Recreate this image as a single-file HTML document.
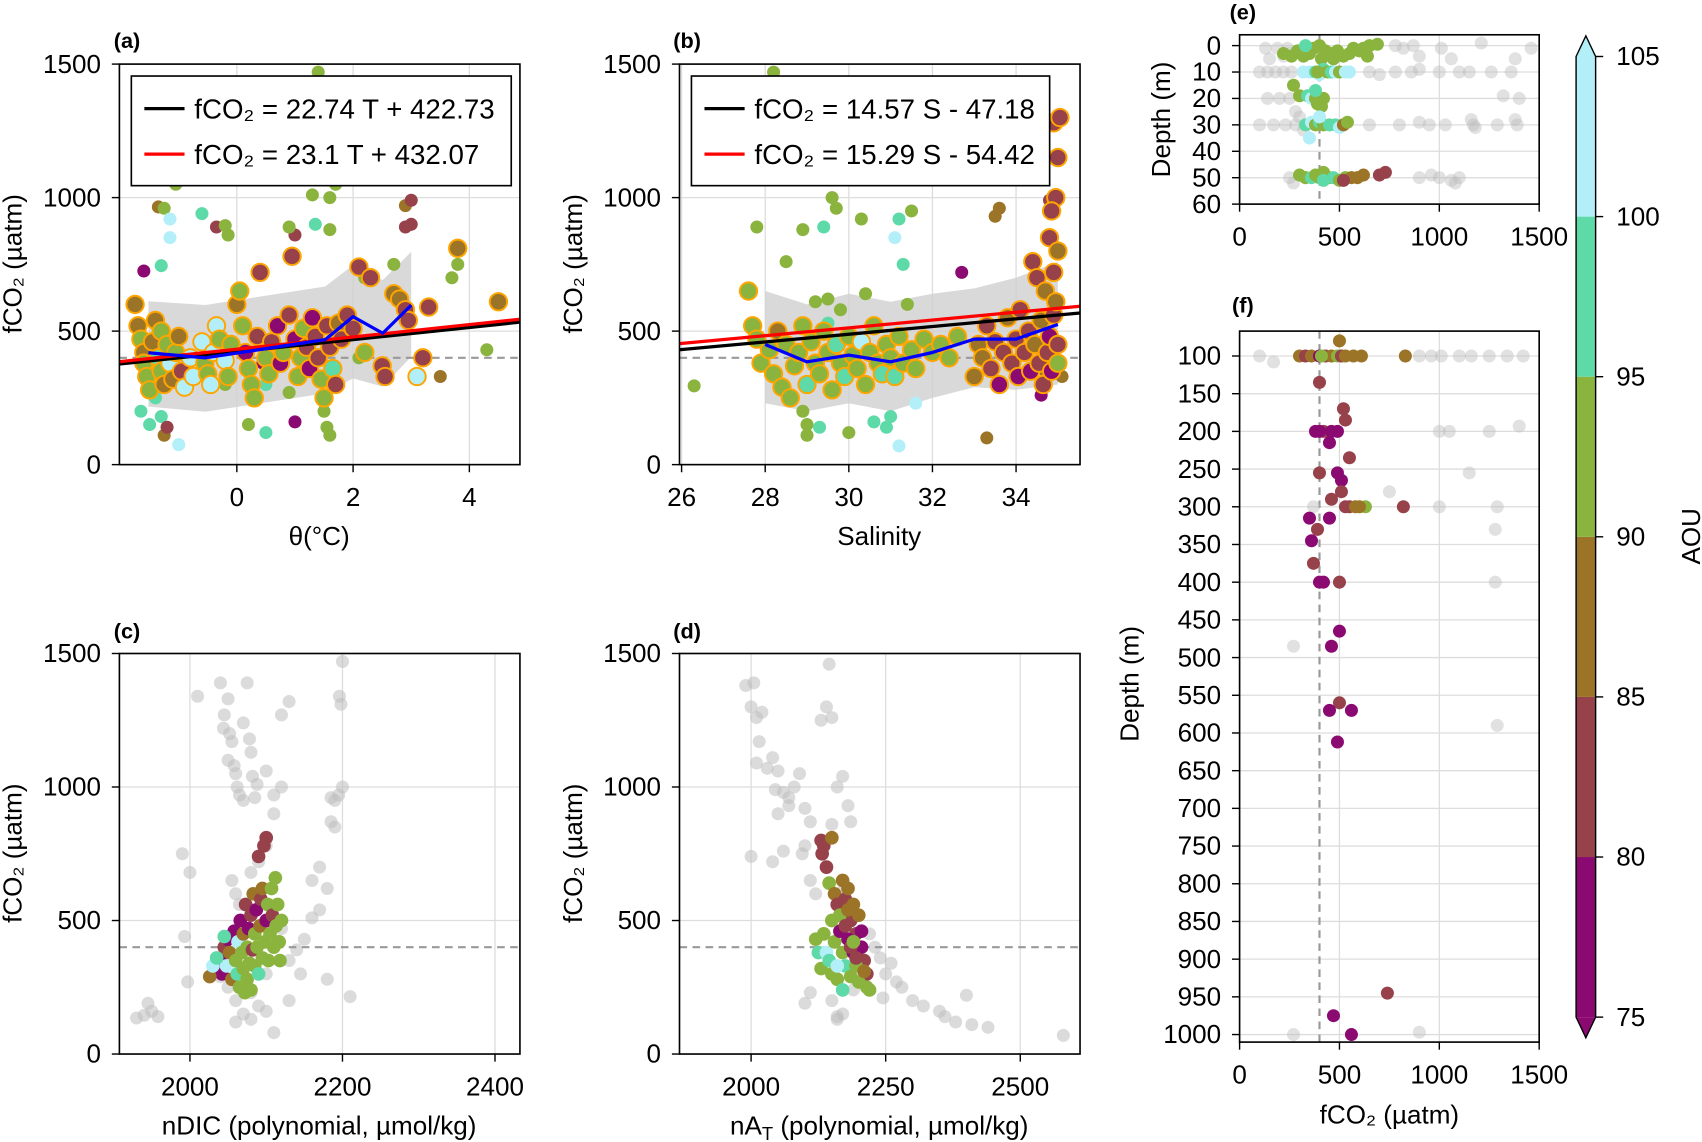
<!DOCTYPE html>
<html><head><meta charset="utf-8"><style>
html,body{margin:0;padding:0;background:#fff}
svg{display:block;font-family:"Liberation Sans",Arial,sans-serif}
</style></head><body>
<svg id="fig" width="1702" height="1142" viewBox="0 0 1568 1052" xmlns="http://www.w3.org/2000/svg"></svg>
<script>
// ---------- data ----------
const aEdge=[[-1.75,600,87],[-1.7,520,87],[-1.65,470,92],[-1.6,420,87],[-1.6,380,92],[-1.55,330,92],[-1.5,280,92],[-1.45,460,87],[-1.4,540,87],[-1.35,400,97],[-1.3,350,92],[-1.3,500,92],[-1.25,300,87],[-1.2,450,92],[-1.15,380,102],[-1.1,320,87],[-1.05,420,92],[-1.0,480,87],[-0.95,350,82],[-0.9,290,102],[-0.8,400,102],[-0.75,330,102],[-0.6,460,102],[-0.55,380,92],[-0.5,340,92],[-0.45,300,102],[-0.4,420,102],[-0.35,520,102],[-0.3,470,92],[-0.2,390,102],[-0.15,330,92],[-0.1,450,92],[0,600,87],[0.05,650,92],[0.1,520,92],[0.15,420,77],[0.2,360,92],[0.25,300,92],[0.3,250,92],[0.35,480,82],[0.4,720,82],[0.5,400,92],[0.55,340,92],[0.6,460,82],[0.7,520,77],[0.75,380,77],[0.8,420,92],[0.9,560,82],[0.95,780,82],[1.0,470,77],[1.05,330,92],[1.1,400,92],[1.15,510,92],[1.2,440,82],[1.25,360,77],[1.3,550,77],[1.35,480,82],[1.4,400,82],[1.45,320,92],[1.5,250,92],[1.55,520,82],[1.6,440,82],[1.65,360,97],[1.7,300,82],[1.75,530,87],[1.8,470,82],[1.9,560,82],[2.0,510,82],[2.1,740,82],[2.2,420,92],[2.3,700,82],[2.5,370,82],[2.55,330,82],[2.7,640,87],[2.8,620,87],[2.9,580,82],[2.95,540,82],[3.1,330,102],[3.2,400,82],[3.3,590,82],[3.8,810,87],[4.5,610,87]];
const aPlain=[[-1.65,200,97],[-1.5,150,97],[-1.4,250,97],[-1.3,180,97],[-1.25,110,87],[-1.2,140,82],[-1.0,75,102],[-1.35,965,87],[-1.25,960,92],[-1.15,920,102],[-1.15,850,102],[-1.3,745,97],[-1.6,725,77],[-0.6,940,97],[-0.35,890,82],[-0.2,895,92],[-0.15,860,92],[-1.05,1050,92],[0.5,300,97],[0.9,270,92],[0.5,120,97],[1.5,200,92],[1.55,140,92],[1.6,110,92],[0.45,380,77],[0.2,150,92],[1.0,160,77],[1.85,470,92],[2.2,700,92],[2.7,750,92],[2.9,970,87],[3.0,990,82],[3.0,900,82],[2.9,890,82],[1.3,1010,92],[1.35,900,97],[1.4,1470,92],[1.0,860,82],[1.6,1000,92],[1.7,1050,92],[1.6,880,92],[0.9,890,92],[3.8,750,92],[3.7,700,92],[4.3,430,92],[3.5,330,87],[-0.2,300,92],[0.2,330,102],[1.65,500,97],[2.1,400,92]];
const aBlueT=[-1.52,-0.54,1.52,2.0,2.51,3.0];
const aBlueF=[419,400,468,554,492,597];
const aBandHi=[612,598,667,747,691,797];
const aBandLo=[217,198,267,323,292,404];
const bEdge=[[27.6,650,92],[27.7,520,92],[27.8,470,92],[27.9,380,92],[28.1,430,92],[28.2,340,92],[28.3,500,87],[28.4,290,92],[28.5,450,92],[28.6,250,92],[28.7,370,92],[28.8,420,92],[28.9,520,92],[29.0,300,97],[29.1,460,92],[29.2,380,92],[29.3,340,92],[29.4,500,92],[29.5,420,92],[29.6,280,92],[29.7,450,97],[29.8,380,92],[29.9,330,97],[30.0,480,92],[30.1,410,92],[30.2,360,92],[30.3,460,102],[30.4,300,92],[30.5,420,92],[30.6,520,92],[30.7,380,92],[30.8,340,97],[30.9,450,92],[31.0,400,92],[31.1,330,97],[31.2,480,92],[31.3,380,92],[31.5,430,92],[31.6,360,92],[31.8,470,92],[32.0,420,92],[32.2,450,92],[32.4,400,92],[32.6,480,92],[33.0,330,87],[33.1,450,87],[33.2,400,87],[33.3,520,82],[33.4,360,82],[33.5,460,82],[33.6,300,77],[33.7,420,82],[33.8,550,87],[33.9,380,82],[34.0,470,82],[34.05,330,77],[34.1,580,82],[34.2,420,82],[34.3,500,82],[34.35,350,77],[34.4,760,82],[34.45,450,87],[34.5,700,82],[34.55,380,82],[34.6,540,87],[34.65,300,82],[34.7,650,87],[34.75,420,82],[34.8,480,77],[34.8,850,82],[34.85,350,77],[34.9,560,82],[34.9,720,82],[34.95,610,87],[35.0,450,82],[35.0,800,87],[34.95,1000,82],[35.0,1150,82],[34.9,1280,82],[35.0,380,92],[34.85,950,82],[35.05,1300,82]];
const bPlain=[[26.3,295,92],[27.8,890,92],[28.2,1470,92],[28.5,760,92],[28.9,200,92],[28.9,880,92],[29.0,150,92],[29.0,110,92],[29.3,140,97],[29.4,890,97],[29.6,1000,92],[29.7,960,92],[30.0,120,92],[30.3,920,92],[30.6,160,97],[30.9,140,97],[31.1,850,102],[31.2,920,97],[31.3,750,97],[31.5,950,92],[31.6,230,102],[31.0,180,97],[31.2,70,102],[29.2,610,92],[29.5,620,92],[29.8,580,92],[30.4,640,92],[31.4,600,92],[32.7,720,77],[33.5,930,87],[33.6,960,87],[34.7,350,87],[34.6,260,77],[35.1,330,87],[33.3,100,87],[34.8,990,82],[29.5,530,97]];
const bBlueS=[28,29,30,31,32,33,34,35];
const bBlueF=[450,385,410,385,420,470,470,525];
const bBandHi=[650,600,640,610,640,660,700,760];
const bBandLo=[230,200,230,200,250,290,280,300];
const bFitS=[25.95,35.53];
const bFitBlack=[430,568];
const bFitRed=[453,593];
const cGrey=[[1930,135],[1940,145],[1945,190],[1950,160],[1958,140],[1990,750],[1993,440],[1997,270],[2000,680],[2010,1340],[2040,1390],[2045,1270],[2044,1220],[2050,1330],[2055,1170],[2060,1050],[2058,1080],[2050,1100],[2062,1000],[2065,970],[2070,950],[2052,1200],[2070,1240],[2075,1390],[2078,1180],[2080,1130],[2082,1040],[2085,960],[2088,1010],[2100,1060],[2110,970],[2120,1000],[2110,900],[2100,780],[2090,720],[2080,680],[2055,650],[2060,600],[2065,560],[2120,1270],[2130,1320],[2160,650],[2170,700],[2180,620],[2185,960],[2190,950],[2195,970],[2200,1000],[2198,1310],[2196,1340],[2200,1470],[2190,850],[2185,870],[2210,215],[2180,280],[2160,510],[2140,390],[2130,350],[2100,160],[2090,180],[2080,230],[2070,150],[2060,200],[2060,120],[2110,80],[2100,300],[2070,320],[2040,290],[2050,250],[2120,470],[2150,430],[2170,540],[2145,300],[2130,200],[2080,130]];
const cCol=[[2040,350,77],[2042,300,77],[2045,400,82],[2048,330,102],[2050,430,77],[2052,380,87],[2055,280,87],[2058,460,77],[2060,350,92],[2062,300,97],[2063,420,102],[2065,250,92],[2066,500,77],[2068,380,92],[2070,320,92],[2070,450,87],[2072,230,92],[2073,560,82],[2075,400,92],[2075,280,92],[2077,470,77],[2078,340,92],[2080,520,82],[2080,240,92],[2082,390,82],[2083,600,87],[2085,450,92],[2085,330,92],[2087,540,77],[2088,400,92],[2090,740,82],[2090,300,97],[2092,480,87],[2093,580,82],[2095,620,87],[2095,360,92],[2097,780,82],[2098,420,92],[2100,500,77],[2100,810,82],[2102,560,92],[2103,350,92],[2105,450,92],[2107,620,92],[2108,520,82],[2110,400,92],[2112,660,92],[2113,480,92],[2115,560,92],[2117,420,92],[2118,350,92],[2120,500,92],[2026,290,87],[2030,330,102],[2035,360,97],[2045,440,97]];
const dGrey=[[1990,1380],[2005,1390],[2000,1300],[2010,1260],[2015,1170],[2020,1280],[2010,1090],[2030,1070],[2040,1110],[2050,1060],[2045,990],[2060,980],[2070,960],[2080,1000],[2090,1050],[2050,900],[2070,930],[2100,920],[2110,870],[2100,780],[2095,750],[2060,760],[2040,720],[2000,740],[2130,1250],[2140,1300],[2145,1460],[2150,1260],[2160,1000],[2170,1040],[2180,930],[2185,870],[2150,860],[2120,600],[2110,650],[2170,610],[2220,450],[2230,400],[2240,360],[2260,340],[2250,300],[2270,270],[2280,250],[2300,200],[2320,180],[2350,160],[2360,140],[2380,120],[2410,110],[2440,100],[2400,220],[2580,70],[2160,140],[2160,130],[2170,150],[2100,190],[2110,230],[2150,200],[2200,280],[2190,240],[2245,210]];
const dCol=[[2130,800,82],[2132,750,82],[2135,780,82],[2140,700,82],[2150,810,87],[2145,640,92],[2155,600,87],[2160,560,82],[2165,520,87],[2170,650,87],[2175,580,82],[2180,620,87],[2185,500,82],[2190,560,87],[2195,450,82],[2200,520,87],[2205,400,77],[2210,350,82],[2215,300,82],[2120,430,92],[2125,380,97],[2130,320,92],[2135,450,92],[2140,380,102],[2145,350,97],[2150,300,92],[2155,420,92],[2160,280,92],[2165,460,77],[2170,380,92],[2175,330,97],[2180,430,77],[2185,290,92],[2190,380,77],[2195,330,92],[2200,270,92],[2205,460,77],[2210,310,87],[2215,250,92],[2220,240,92],[2150,500,92],[2160,330,102],[2170,240,97],[2185,400,82],[2195,360,82],[2165,520,92],[2175,480,82],[2180,540,87],[2190,420,92]];
const eGrey=[[130,1],[150,5],[190,1],[220,4],[250,3],[240,1],[780,0],[820,1],[870,0],[900,4],[1010,1],[1060,5],[1210,-1],[1380,5],[1460,1],[100,10],[140,10],[180,10],[220,10],[260,10],[650,10],[700,11],[780,10],[860,10],[900,9],[1000,10],[1100,10],[1150,10],[1260,10],[1360,10],[200,20],[250,20],[140,20],[1320,19],[1400,20],[280,25],[300,27],[100,30],[170,30],[230,30],[280,30],[320,32],[650,30],[800,30],[900,29],[950,30],[1030,30],[1170,30],[1290,30],[1180,31],[1390,30],[1380,28],[1160,28],[250,50],[270,52],[330,50],[900,50],[960,49],[1000,50],[1060,51],[1100,50],[1080,52]];
const eCol=[[220,3,92],[260,4,92],[290,2,92],[320,4,92],[350,3,92],[370,1,92],[400,0,92],[430,2,92],[460,3,92],[490,2,92],[520,4,92],[550,3,92],[570,1,92],[600,2,92],[620,1,92],[650,0,92],[330,0,97],[410,5,92],[470,5,92],[690,-0.5,92],[640,4,92],[320,10,102],[350,10,102],[380,10,97],[400,11,102],[420,9,97],[440,10,92],[460,10,97],[480,10,102],[500,10,92],[530,10,102],[550,10,102],[390,10,92],[300,19,92],[340,19,97],[360,20,102],[380,20,92],[420,20,92],[390,22,92],[410,23,92],[270,15,92],[380,17,97],[330,30,97],[360,29,102],[380,30,92],[400,29,97],[420,30,92],[450,30,97],[480,30,97],[500,31,102],[520,30,87],[540,29,92],[350,35,102],[400,27,102],[300,49,92],[330,50,92],[360,50,97],[380,49,92],[400,50,92],[420,48,92],[450,50,92],[470,50,97],[500,51,92],[530,50,92],[560,50,87],[590,50,87],[620,49,87],[520,51,82],[700,49,82],[730,48,82],[420,51,97]];
const fGrey=[[100,100],[170,108],[900,100],[960,100],[1010,100],[1100,100],[1160,100],[1250,100],[1340,100],[1420,100],[1400,193],[1050,200],[1000,200],[1250,200],[1150,255],[750,280],[1000,300],[1290,300],[370,300],[1280,330],[1280,400],[270,485],[1290,590],[270,1000],[900,997]];
const fCol=[[300,100,87],[330,100,82],[360,100,87],[400,100,77],[430,100,82],[460,100,87],[490,100,92],[510,100,82],[530,100,87],[570,100,87],[610,100,87],[830,100,87],[500,80,87],[410,100,92],[400,135,82],[520,170,82],[530,185,82],[380,200,77],[420,200,82],[460,200,77],[400,200,77],[490,200,77],[450,215,77],[550,235,82],[490,255,77],[510,265,77],[400,255,82],[510,280,82],[530,300,82],[550,300,82],[580,300,87],[630,300,92],[600,300,87],[820,300,82],[450,315,77],[460,290,82],[350,315,77],[360,345,77],[390,330,82],[370,375,82],[400,400,77],[420,400,77],[500,400,82],[500,465,77],[460,485,77],[500,560,82],[450,570,77],[560,570,77],[490,612,77],[740,945,82],[470,975,77],[560,1000,77]];
const cbTicks=[75,80,85,90,95,100,105];
const cbColors=['#8b0a72','#97414b','#9b7427','#8ab43d','#5edaa9','#b3eff8'];

// ---------- helpers ----------
const NS='http://www.w3.org/2000/svg';
const svg=document.getElementById('fig');
const TF=24, AF=24;
function mk(tag,attrs,parent){const e=document.createElementNS(NS,tag);for(const k in attrs)e.setAttribute(k,attrs[k]);(parent||svg).appendChild(e);return e;}
function col(a){return a<80?cbColors[0]:a<85?cbColors[1]:a<90?cbColors[2]:a<95?cbColors[3]:a<100?cbColors[4]:cbColors[5];}
function lin(d0,d1,r0,r1){return v=>r0+(v-d0)*(r1-r0)/(d1-d0);}

function panel(name,x0,x1,y0,y1,xd,yd,xt,yt,label,lx,ly){
  const g=mk('g',{});
  
  
  const X=lin(xd[0],xd[1],x0,x1),Y=lin(yd[0],yd[1],y1,y0);
  const cp=mk('clipPath',{id:'cp-'+name},g);mk('rect',{x:x0,y:y0,width:x1-x0,height:y1-y0},cp);
  const grid=mk('g',{stroke:'#dddddd','stroke-width':1.2},g);
  
  
  xt.forEach(t=>mk('line',{x1:X(t),x2:X(t),y1:y0,y2:y1},grid));
  yt.forEach(t=>mk('line',{x1:x0,x2:x1,y1:Y(t),y2:Y(t)},grid));
  const plot=mk('g',{'clip-path':'url(#cp-'+name+')'},g);
  const ax=mk('g',{},g);
  mk('rect',{x:x0,y:y0,width:x1-x0,height:y1-y0,fill:'none',stroke:'#000','stroke-width':1.5},ax);
  xt.forEach(t=>{mk('line',{x1:X(t),x2:X(t),y1:y1,y2:y1+7,stroke:'#000','stroke-width':1.3},ax);
    const tx=mk('text',{x:X(t),y:y1+38,'font-size':TF,'text-anchor':'middle'},ax);tx.textContent=t;
    
    });
  yt.forEach(t=>{mk('line',{x1:x0-7,x2:x0,y1:Y(t),y2:Y(t),stroke:'#000','stroke-width':1.3},ax);
    const tx=mk('text',{x:x0-17,y:Y(t)+8,'font-size':TF,'text-anchor':'end'},ax);tx.textContent=t;
    
    });
  const pl=mk('text',{x:lx,y:ly,'font-size':20,'font-weight':'bold','text-anchor':'middle'},g);pl.textContent=label;
  
  
  return {X,Y,plot,g};
}
function dot(p,x,y,fill,r,extra){const c=mk('circle',Object.assign({cx:p.X(x),cy:p.Y(y),r:r,fill:fill},extra||{}),p.plot);
  
  return c;}
function hdash(p,v,a,b){const l=mk('line',{x1:p.X(a),x2:p.X(b),y1:p.Y(v),y2:p.Y(v),stroke:'#999','stroke-width':2,'stroke-dasharray':'7,5'},p.plot);
  
  }
function vdash(p,v,a,b){const l=mk('line',{x1:p.X(v),x2:p.X(v),y1:p.Y(a),y2:p.Y(b),stroke:'#999','stroke-width':2,'stroke-dasharray':'7,5'},p.plot);
  
  }
function band(p,xs,hi,lo){let d='M'+xs.map((x,i)=>p.X(x)+','+p.Y(hi[i])).join('L');
  for(let i=xs.length-1;i>=0;i--)d+='L'+p.X(xs[i])+','+p.Y(lo[i]);
  const e=mk('path',{d:d+'Z',fill:'#cfcfcf','fill-opacity':0.8},p.plot);
  
  }
function poly(p,xs,ys,stroke,w,name){const e=mk('polyline',{points:xs.map((x,i)=>p.X(x)+','+p.Y(ys[i])).join(' '),fill:'none',stroke:stroke,'stroke-width':w,'stroke-linejoin':'round'},p.plot);
  
  }
function fit(p,xd,m,b,stroke,name){poly(p,xd,xd.map(x=>m*x+b),stroke,3,name);}
function text(x,y,s,size,anchor,rot,name){const t=mk('text',{x:x,y:y,'font-size':size,'text-anchor':anchor||'middle'});
  if(rot)t.setAttribute('transform','rotate(-90 '+x+' '+y+')');t.textContent=s;
  
  return t;}
function legend(x,y,w,rows){const g=mk('g',{});
  
  
  mk('rect',{x:x,y:y,width:w,height:101,fill:'#fff',stroke:'#000','stroke-width':1.5},g);
  rows.forEach((r,i)=>{const yy=y+30+i*42;mk('line',{x1:x+12,x2:x+49,y1:yy,y2:yy,stroke:r[0],'stroke-width':3},g);
    const t=mk('text',{x:x+58,y:yy+9,'font-size':25.5},g);t.textContent=r[1];
    
    });}

// ---------- panel a ----------
const yt4=[0,500,1000,1500];
const pa=panel('panel-a',110,479,59,428,[-2.02,4.87],[0,1500],[0,2,4],yt4,'(a)',117,44);
band(pa,aBlueT,aBandHi,aBandLo);
hdash(pa,400,-2.02,4.87);
aPlain.forEach(d=>dot(pa,d[0],d[1],col(d[2]),6));
aEdge.forEach(d=>dot(pa,d[0],d[1],col(d[2]),8,{stroke:'#ffa500','stroke-width':1.8}));
fit(pa,[-2.02,4.87],22.74,422.73,'#000','fit-line-all');
fit(pa,[-2.02,4.87],23.1,432.07,'#ff0000','fit-line-surface');
poly(pa,aBlueT,aBlueF,'#0000ff',3,'binned-mean-line');
legend(121,70,350,[['#000','fCO₂ = 22.74 T + 422.73'],['#ff0000','fCO₂ = 23.1 T + 432.07']]);
text(20,243,'fCO₂ (µatm)',AF,'middle',true,'y-axis-title');
text(294,502,'θ(°C)',AF,'middle',false,'x-axis-title');

// ---------- panel b ----------
const pb=panel('panel-b',626,995,59,428,[25.95,35.53],[0,1500],[26,28,30,32,34],yt4,'(b)',633,44);
band(pb,bBlueS,bBandHi,bBandLo);
hdash(pb,400,25.95,35.53);
bPlain.forEach(d=>dot(pb,d[0],d[1],col(d[2]),6));
bEdge.forEach(d=>dot(pb,d[0],d[1],col(d[2]),8,{stroke:'#ffa500','stroke-width':1.8}));
poly(pb,bFitS,bFitBlack,'#000',3,'fit-line-all');
poly(pb,bFitS,bFitRed,'#ff0000',3,'fit-line-surface');
poly(pb,bBlueS,bBlueF,'#0000ff',3,'binned-mean-line');
legend(637,70,330,[['#000','fCO₂ = 14.57 S - 47.18'],['#ff0000','fCO₂ = 15.29 S - 54.42']]);
text(536,243,'fCO₂ (µatm)',AF,'middle',true,'y-axis-title');
text(810,502,'Salinity',AF,'middle',false,'x-axis-title');

// ---------- panel c ----------
const pc=panel('panel-c',110,479,602,971,[1907.5,2432.7],[0,1500],[2000,2200,2400],yt4,'(c)',117,588);
cGrey.forEach(d=>dot(pc,d[0],d[1],'#bdbdbd',6,{'fill-opacity':0.55}));
hdash(pc,400,1907.5,2432.7);
cCol.forEach(d=>dot(pc,d[0],d[1],col(d[2]),6.3));
text(20,786,'fCO₂ (µatm)',AF,'middle',true,'y-axis-title');
text(294,1045,'nDIC (polynomial, µmol/kg)',AF,'middle',false,'x-axis-title');

// ---------- panel d ----------
const pd=panel('panel-d',626,995,602,971,[1867,2611],[0,1500],[2000,2250,2500],yt4,'(d)',633,588);
dGrey.forEach(d=>dot(pd,d[0],d[1],'#bdbdbd',6,{'fill-opacity':0.55}));
hdash(pd,400,1867,2611);
dCol.forEach(d=>dot(pd,d[0],d[1],col(d[2]),6.3));
text(536,786,'fCO₂ (µatm)',AF,'middle',true,'y-axis-title');
{const t=text(810,1045,'',AF,'middle',false,'x-axis-title');
 t.innerHTML='nA<tspan font-size="17" dy="5">T</tspan><tspan dy="-5"> (polynomial, µmol/kg)</tspan>';}

// ---------- panel e ----------
const pe=panel('panel-e',1142,1418,32,188,[0,1500],[60,-4.1],[0,500,1000,1500],[0,10,20,30,40,50,60],'(e)',1145,18);
vdash(pe,400,-4.1,60);
eGrey.forEach(d=>dot(pe,d[0],d[1],'#bdbdbd',6,{'fill-opacity':0.45}));
eCol.forEach(d=>dot(pe,d[0],d[1],col(d[2]),6));
text(1078,110,'Depth (m)',AF,'middle',true,'y-axis-title');

// ---------- panel f ----------
const fyt=[];for(let v=100;v<=1000;v+=50)fyt.push(v);
const pf=panel('panel-f',1142,1418,305,960,[0,1500],[1010,67],[0,500,1000,1500],fyt,'(f)',1145,288);
vdash(pf,400,67,1010);
fGrey.forEach(d=>dot(pf,d[0],d[1],'#bdbdbd',6,{'fill-opacity':0.45}));
fCol.forEach(d=>dot(pf,d[0],d[1],col(d[2]),6));
text(1049,630,'Depth (m)',AF,'middle',true,'y-axis-title');
text(1280,1035,'fCO₂ (µatm)',AF,'middle',false,'x-axis-title');

// ---------- colorbar ----------
{const g=mk('g',{});
 
 
 const cx0=1452,cx1=1470,CY=lin(75,105,937,52);
 for(let i=0;i<cbColors.length;i++){const r=mk('rect',{x:cx0,y:CY(cbTicks[i+1]),width:cx1-cx0,height:CY(cbTicks[i])-CY(cbTicks[i+1]),fill:cbColors[i]},g);
   
   }
 mk('path',{d:`M${cx0},${CY(105)}L${(cx0+cx1)/2},${CY(105)-19}L${cx1},${CY(105)}Z`,fill:cbColors[5]},g);
 mk('path',{d:`M${cx0},${CY(75)}L${(cx0+cx1)/2},${CY(75)+19}L${cx1},${CY(75)}Z`,fill:cbColors[0]},g);
 mk('path',{d:`M${cx0},${CY(105)}L${(cx0+cx1)/2},${CY(105)-19}L${cx1},${CY(105)}L${cx1},${CY(75)}L${(cx0+cx1)/2},${CY(75)+19}L${cx0},${CY(75)}Z`,fill:'none',stroke:'#000','stroke-width':1.3},g);
 cbTicks.forEach(t=>{mk('line',{x1:cx1,x2:cx1+7,y1:CY(t),y2:CY(t),stroke:'#000','stroke-width':1.3},g);
   const tx=mk('text',{x:cx1+19,y:CY(t)+8,'font-size':TF},g);tx.textContent=t;
   
   });
 text(1566,494,'AOU',AF,'middle',true,'colorbar-title');}
</script>
</body></html>
